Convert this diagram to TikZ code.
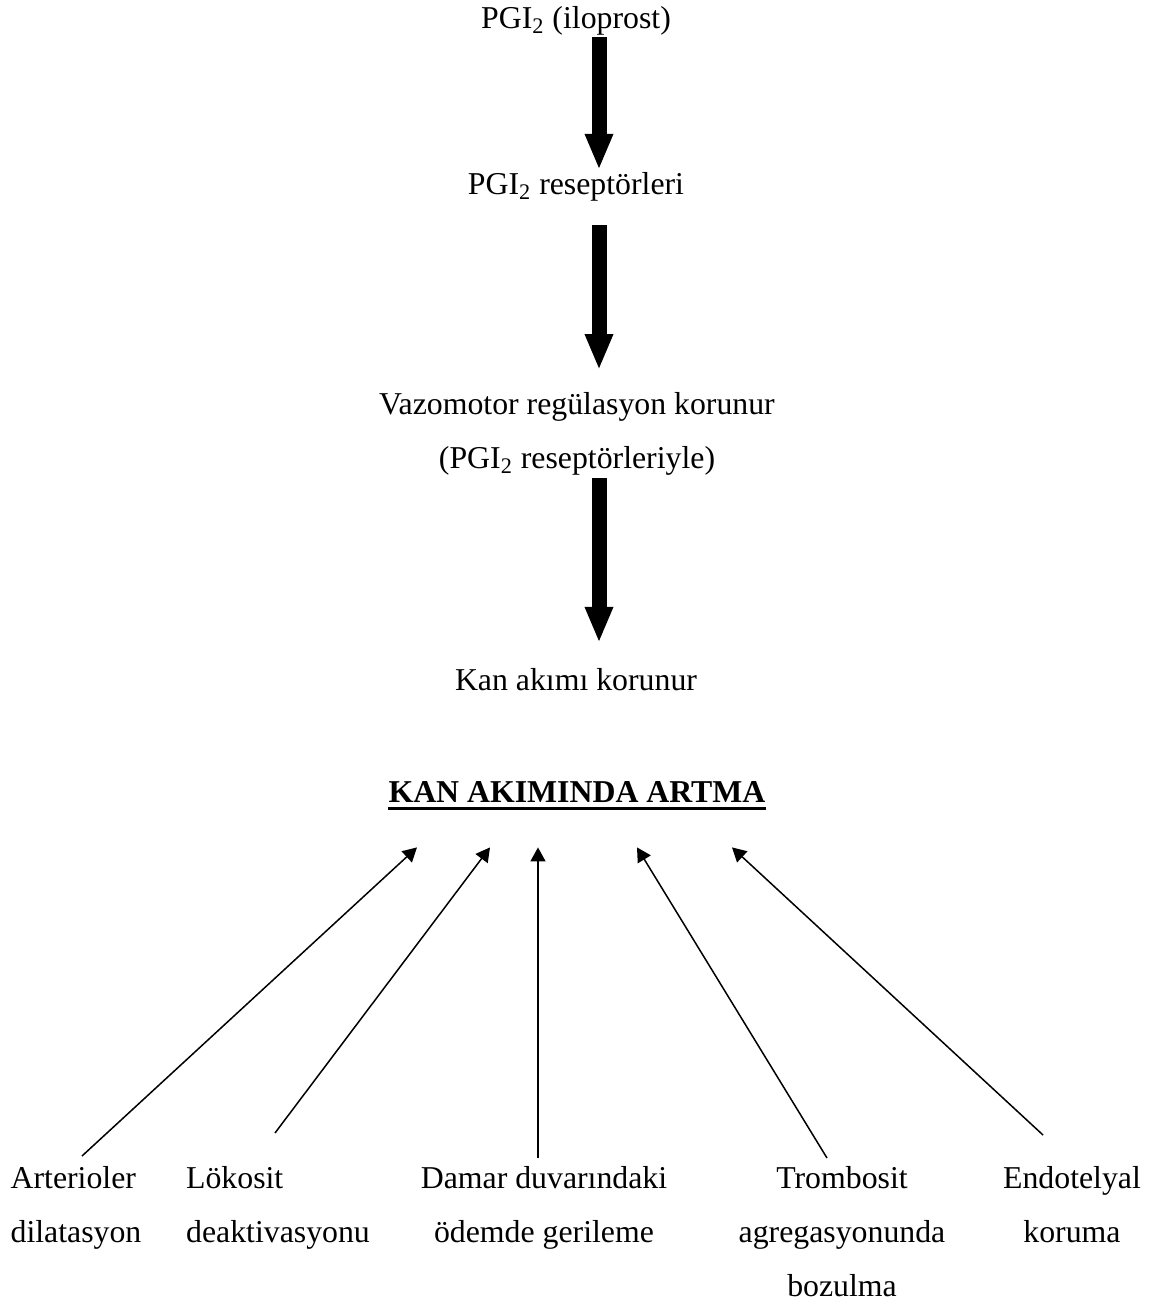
\documentclass[tikz,border=0pt]{standalone}
\usepackage{fontspec}
\setmainfont{Liberation Serif}
\usetikzlibrary{arrows.meta}
\tikzset{
  tekst/.style={inner sep=0pt, font=\fontsize{15.9}{27}\selectfont, text height=10.9pt, text depth=3.45pt},
  lbl/.style={inner sep=0pt, font=\fontsize{15.9}{27}\selectfont, align=#1},
  lbl/.default=center,
  fatarrow/.style={line width=7.5pt, -{Triangle[length=18pt,width=13pt]}},
  thinarrow/.style={line width=0.75pt, -{Triangle[length=7pt,width=7.5pt]}},
}
\begin{document}
\begin{tikzpicture}[x=0.5pt,y=-0.5pt]
\useasboundingbox (0,0) rectangle (1164,1308);
% upper chain
\node[tekst, anchor=base] (ilo) at (576,28) {PGI\textsubscript{2} (iloprost)};
\node[tekst, anchor=base] (rec) at (576,194) {PGI\textsubscript{2} reseptörleri};
\node[lbl, anchor=north] (vaz) at (577,392) {Vazomotor regülasyon korunur\\(PGI\textsubscript{2} reseptörleriyle)};
\node[tekst, anchor=base] (kan) at (576,690) {Kan akımı korunur};
\draw[fatarrow, shorten <=1pt, shorten >=1pt] ([xshift=11.5pt]ilo.south) -- ([xshift=11.5pt]rec.north);
\draw[fatarrow, shorten <=12pt, shorten >=11pt] ([xshift=11.5pt]rec.south) -- ([xshift=11pt]vaz.north);
\draw[fatarrow, shorten <=1pt, shorten >=12.5pt] ([xshift=11pt]vaz.south) -- ([xshift=11.5pt]kan.north);
% title
\node[tekst, anchor=base, font=\fontsize{15.9}{27}\selectfont\bfseries, text depth=0pt] (artma) at (577,802) {KAN AKIMINDA ARTMA};
\draw[line width=1.25pt] ([yshift=-3pt]artma.south west) -- ([yshift=-3pt]artma.south east);
% effects
\node[lbl=left, anchor=north] (art) at (76,1166) {Arterioler\\dilatasyon};
\node[lbl=left, anchor=north] (lok) at (278,1166) {Lökosit\\deaktivasyonu};
\node[lbl, anchor=north] (dam) at (544,1166) {Damar duvarındaki\\ödemde gerileme};
\node[lbl, anchor=north] (tro) at (842,1166) {Trombosit\\agregasyonunda\\bozulma};
\node[lbl, anchor=north] (endo) at (1072,1166) {Endotelyal\\koruma};
\draw[thinarrow] ([shift={(6,-10)}]art.north) -- ([shift={(-160,45)}]artma.south);
\draw[thinarrow] ([shift={(-3,-33)}]lok.north) -- ([shift={(-87,45)}]artma.south);
\draw[thinarrow] ([shift={(-6,-8)}]dam.north) -- ([shift={(-39,45)}]artma.south);
\draw[thinarrow] ([shift={(-15,-8)}]tro.north) -- ([shift={(60,45)}]artma.south);
\draw[thinarrow] ([shift={(-29,-31)}]endo.north) -- ([shift={(155,45)}]artma.south);
\end{tikzpicture}
\end{document}
